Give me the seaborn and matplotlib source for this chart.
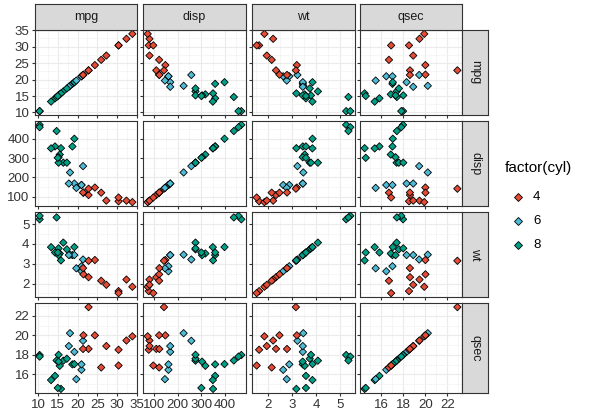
import matplotlib
matplotlib.use("Agg")
import matplotlib.pyplot as plt
import seaborn as sns
import pandas as pd
import numpy as np
from matplotlib.ticker import MultipleLocator

mpg = [21,21,22.8,21.4,18.7,18.1,14.3,24.4,22.8,19.2,17.8,16.4,17.3,15.2,10.4,10.4,14.7,32.4,30.4,33.9,21.5,15.5,15.2,13.3,19.2,27.3,26,30.4,15.8,19.7,15,21.4]
cyl = [6,6,4,6,8,6,8,4,4,6,6,8,8,8,8,8,8,4,4,4,4,8,8,8,8,4,4,4,8,6,8,4]
disp = [160,160,108,258,360,225,360,146.7,140.8,167.6,167.6,275.8,275.8,275.8,472,460,440,78.7,75.7,71.1,120.1,318,304,350,400,79,120.3,95.1,351,145,301,121]
wt = [2.62,2.875,2.32,3.215,3.44,3.46,3.57,3.19,3.15,3.44,3.44,4.07,3.73,3.78,5.25,5.424,5.345,2.2,1.615,1.835,2.465,3.52,3.435,3.84,3.845,1.935,2.14,1.513,3.17,2.77,3.57,2.78]
qsec = [16.46,17.02,18.61,19.44,17.02,20.22,15.84,20,22.9,18.3,18.9,17.4,17.6,18,17.98,17.82,17.42,19.47,18.52,19.9,20.01,16.87,17.3,15.41,17.05,18.9,16.7,16.9,14.5,15.5,14.6,18.6]
variables = ["mpg", "disp", "wt", "qsec"]
ticks = {"mpg": [10,15,20,25,30,35], "disp": [100,200,300,400], "wt": [2,3,4,5], "qsec": [16,18,20,22]}
minor = {"mpg": 2.5, "disp": 50, "wt": 0.5, "qsec": 1}

plt.rcParams['font.family'] = ['Liberation Sans', 'DejaVu Sans']

df = pd.DataFrame({"mpg": mpg, "disp": disp, "wt": wt, "qsec": qsec, "cyl": [str(c) for c in cyl]})
palette = {"4": "#E64B35", "6": "#4DBBD5", "8": "#00A087"}

W, H = 589, 412
fig = plt.figure(figsize=(W/100, H/100), dpi=100)
cols = [(35, 137), (143, 246), (252, 355), (360, 462)]
rows = [(30, 115), (121, 206), (212, 297), (303, 393)]

def box(x0, x1, y0, y1):
    return [x0/W, 1 - y1/H, (x1-x0)/W, (y1-y0)/H]

def lims(v):
    a, b = min(df[v]), max(df[v]); d = (b-a)*0.05
    return a-d, b+d

for i, rv in enumerate(variables):
    for j, cv in enumerate(variables):
        ax = fig.add_axes(box(cols[j][0], cols[j][1], rows[i][0], rows[i][1]))
        ax.set_facecolor("white")
        sns.scatterplot(data=df, x=cv, y=rv, hue="cyl", palette=palette, marker="D",
                        s=14, edgecolor="black", linewidth=0.6, legend=False, ax=ax, zorder=3)
        ax.set_xlim(*lims(cv)); ax.set_ylim(*lims(rv))
        ax.set_xticks(ticks[cv]); ax.set_yticks(ticks[rv])
        ax.xaxis.set_minor_locator(MultipleLocator(minor[cv]))
        ax.yaxis.set_minor_locator(MultipleLocator(minor[rv]))
        ax.grid(True, which="major", color="#EBEBEB", lw=0.8)
        ax.grid(True, which="minor", color="#F3F3F3", lw=0.5)
        ax.set_axisbelow(True)
        ax.set_xlabel(""); ax.set_ylabel("")
        for s in ax.spines.values():
            s.set_color("#333333"); s.set_linewidth(0.8)
        ax.tick_params(labelsize=9.5, length=2.5, pad=1.5, color="#333333", labelcolor="#333333", which="major")
        ax.tick_params(which="minor", length=0)
        if i != 3: ax.set_xticklabels([])
        if j != 0: ax.set_yticklabels([])
        if i == 0:
            sa = fig.add_axes(box(cols[j][0], cols[j][1], 4, 30))
            sa.set_facecolor("#D9D9D9"); sa.set_xticks([]); sa.set_yticks([])
            for s in sa.spines.values(): s.set_color("#333333"); s.set_linewidth(0.8)
            sa.text(0.5, 0.5, cv, ha="center", va="center", fontsize=9, color="#1A1A1A")
        if j == 3:
            sa = fig.add_axes(box(462, 488, rows[i][0], rows[i][1]))
            sa.set_facecolor("#D9D9D9"); sa.set_xticks([]); sa.set_yticks([])
            for s in sa.spines.values(): s.set_color("#333333"); s.set_linewidth(0.8)
            sa.text(0.5, 0.5, rv, ha="center", va="center", fontsize=9, rotation=-90, color="#1A1A1A")

fig.text(505/W, 1-168/H, "factor(cyl)", fontsize=11, va="center")
for k, (lab, yy) in enumerate(zip(["4", "6", "8"], [197, 221, 245])):
    fig.add_artist(plt.Line2D([518/W], [1-yy/H], marker="D", markersize=4, color=palette[lab],
                              markeredgecolor="black", markeredgewidth=0.6, linestyle=""))
    fig.text(533/W, 1-yy/H, lab, fontsize=9.5, va="center")
fig.savefig("out.png", dpi=100)
